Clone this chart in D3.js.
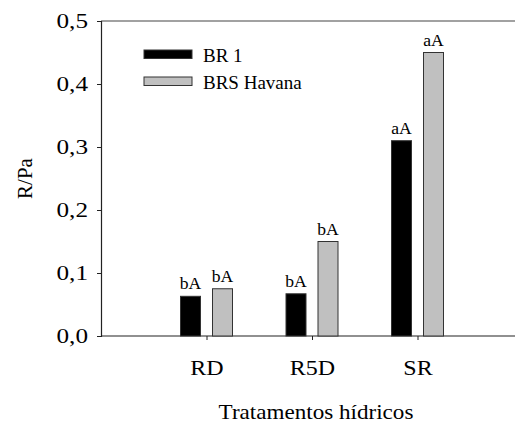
<!DOCTYPE html>
<html>
<head>
<meta charset="utf-8">
<script src="https://cdn.jsdelivr.net/npm/d3@7"></script>
<style>
  body { margin: 0; background: #fff; }
</style>
</head>
<body>
<div class="chart"></div>
<script>
var categories = ["RD", "R5D", "SR"];
var series = ["BR 1", "BRS Havana"];
var br1 = [0.063, 0.067, 0.31];
var havana = [0.075, 0.15, 0.45];
var br1Labels = ["bA", "bA", "aA"];
var havanaLabels = ["bA", "bA", "aA"];
var yTicks = [0, 0.1, 0.2, 0.3, 0.4, 0.5];
var colors = ["#000000", "#c0c0c0"];

var serif = "'Times New Roman', 'Liberation Serif', Times, serif";
var width = 515, height = 423;
var margin = {top: 21, left: 101, bottom: 87};
var stretch = 1.2; // the original text is a bit wider than Times

var svg = d3.select(".chart").append("svg")
    .attr("width", width).attr("height", height);

var x = d3.scaleLinear().domain([0, 4]).range([margin.left, margin.left + 4 * 105.5]);
var y = d3.scaleLinear().domain([0, 0.5]).range([height - margin.bottom, margin.top]);
var x1 = d3.scaleBand().domain(series).range([-26, 26]).paddingInner(0.375);

var comma = d3.formatLocale({decimal: ",", thousands: ".", grouping: [3], currency: ["", ""]}).format(".1f");

// frame top line
svg.append("line")
    .attr("x1", margin.left).attr("x2", width)
    .attr("y1", y(0.5)).attr("y2", y(0.5))
    .attr("stroke", "#444").attr("stroke-width", 1.2);

var yAxis = svg.append("g")
    .attr("transform", "translate(" + margin.left + ",0)")
    .call(d3.axisLeft(y).tickValues(yTicks).tickFormat(comma).tickSize(4).tickPadding(9));
yAxis.attr("font-family", serif).attr("font-size", 21);
yAxis.select(".domain").attr("stroke", "#222").attr("stroke-width", 1.2);
yAxis.selectAll(".tick line").attr("stroke", "#222");
yAxis.selectAll("text")
    .attr("fill", "#000")
    .attr("x", -13 / stretch)
    .attr("transform", "scale(" + stretch + ",1)")
    .style("font-family", serif).style("font-size", "21px");

var xAxis = svg.append("g")
    .attr("transform", "translate(0," + y(0) + ")")
    .call(d3.axisBottom(x).tickValues([1, 2, 3]).tickFormat(function(d) { return categories[d - 1]; })
      .tickSize(4).tickPadding(21));
xAxis.attr("font-family", serif).attr("font-size", 20);
xAxis.select(".domain").attr("stroke", "#222").attr("stroke-width", 1.2)
    .attr("d", "M" + margin.left + ",0H" + width);
xAxis.selectAll(".tick line").attr("stroke", "#222");
xAxis.selectAll("text")
    .attr("fill", "#000")
    .attr("transform", "scale(" + stretch + ",1)")
    .style("font-family", serif).style("font-size", "20px");

var rows = categories.map(function(c, i) {
  return [
    {cat: i + 1, s: series[0], v: br1[i], lab: br1Labels[i], c: colors[0]},
    {cat: i + 1, s: series[1], v: havana[i], lab: havanaLabels[i], c: colors[1]}
  ];
});

var bars = svg.append("g").selectAll("g")
    .data(rows).enter().append("g");

bars.selectAll("rect")
    .data(function(d) { return d; })
    .enter().append("rect")
    .attr("x", function(d) { return x(d.cat) + x1(d.s); })
    .attr("width", x1.bandwidth())
    .attr("y", function(d) { return y(d.v); })
    .attr("height", function(d) { return y(0) - y(d.v); })
    .attr("fill", function(d) { return d.c; })
    .attr("stroke", "#333").attr("stroke-width", 1);

bars.selectAll("text")
    .data(function(d) { return d; })
    .enter().append("text")
    .attr("transform", function(d) {
      return "translate(" + (x(d.cat) + x1(d.s) + x1.bandwidth() / 2) + "," + (y(d.v) - 7) + ") scale(1.1,1)";
    })
    .attr("text-anchor", "middle")
    .style("font-family", serif)
    .style("font-size", "16px")
    .text(function(d) { return d.lab; });

// legend
var legend = svg.append("g").selectAll("g")
    .data(series).enter().append("g")
    .attr("transform", function(d, i) { return "translate(144," + (50 + i * 27) + ")"; });
legend.append("rect")
    .attr("width", 48).attr("height", 8.5)
    .attr("fill", function(d, i) { return colors[i]; })
    .attr("stroke", "#333").attr("stroke-width", 1);
legend.append("text")
    .attr("x", 59).attr("y", 12)
    .style("font-family", serif)
    .style("font-size", "19px")
    .text(function(d) { return d; });

svg.append("text")
    .attr("transform", "translate(316,419) scale(1.05,1)")
    .attr("text-anchor", "middle")
    .style("font-family", serif)
    .style("font-size", "22px")
    .text("Tratamentos hídricos");

svg.append("text")
    .attr("transform", "translate(32,178.5) rotate(-90)")
    .attr("text-anchor", "middle")
    .style("font-family", serif)
    .style("font-size", "21px")
    .text("R/Pa");
</script>
</body>
</html>
